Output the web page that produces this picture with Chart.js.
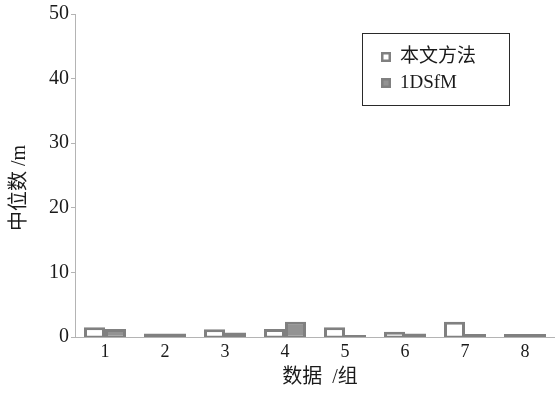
<!DOCTYPE html>
<html>
<head>
<meta charset="utf-8">
<script src="https://cdn.jsdelivr.net/npm/chart.js@4.4.0/dist/chart.umd.min.js"></script>
<style>
  html, body { margin: 0; padding: 0; background: #fff; overflow: hidden; }
  #wrap { width: 555px; height: 394px; }
</style>
</head>
<body>
<div id="wrap"><canvas id="grafik" width="555" height="394"></canvas></div>
<script>
// 各组数据的中位数误差 (m)
const kelompok = ["1", "2", "3", "4", "5", "6", "7", "8"];
const metodeKami = [1.5, 0.55, 1.2, 1.25, 1.5, 0.8, 2.35, 0.45];
const metode1DSfM = [1.25, 0.55, 0.7, 2.35, 0.3, 0.55, 0.45, 0.45];
const labelSeri = ["本文方法", "1DSfM"];
const tickY = [0, 10, 20, 30, 40, 50];

const abu = "#808080";
const abuIsi = "#939393";
const garisSumbu = "#b4b4b4";
const hurufSerif = "'Liberation Serif', 'Noto Sans CJK SC', serif";

Chart.defaults.font.family = hurufSerif;
Chart.defaults.color = "#1a1a1a";

// legenda berbingkai di dalam area grafik
const legendaKotak = {
  id: "legendaKotak",
  afterDraw(chart) {
    const ctx = chart.ctx;
    ctx.save();
    ctx.strokeStyle = "#2a2a2a";
    ctx.lineWidth = 1;
    ctx.strokeRect(362.5, 33.5, 147, 72);
    chart.data.datasets.forEach((ds, i) => {
      const y = 52 + i * 26;
      ctx.fillStyle = ds.backgroundColor;
      ctx.fillRect(381, y, 10, 10);
      ctx.strokeStyle = ds.borderColor;
      ctx.lineWidth = 2.5;
      ctx.strokeRect(382.25, y + 1.25, 7.5, 7.5);
      ctx.fillStyle = "#1a1a1a";
      ctx.font = "19px " + hurufSerif;
      ctx.textBaseline = "middle";
      ctx.fillText(ds.label, 400, y + 5);
    });
    ctx.restore();
  }
};

new Chart(document.getElementById("grafik"), {
  type: "bar",
  data: {
    labels: kelompok,
    datasets: [
      {
        label: labelSeri[0],
        data: metodeKami,
        backgroundColor: "#ffffff",
        borderColor: abu,
        borderWidth: 3,
        borderSkipped: false,
        base: -0.25
      },
      {
        label: labelSeri[1],
        data: metode1DSfM,
        backgroundColor: abuIsi,
        borderColor: abu,
        borderWidth: 3,
        borderSkipped: false,
        base: -0.25
      }
    ]
  },
  options: {
    responsive: false,
    animation: false,
    layout: { padding: { left: 4, top: 1, right: 0, bottom: 0 } },
    categoryPercentage: 0.7,
    barPercentage: 1,
    plugins: {
      legend: { display: false },
      tooltip: { enabled: false }
    },
    scales: {
      x: {
        grid: { display: false, drawTicks: false, tickLength: 0 },
        border: { display: true, color: garisSumbu, width: 1 },
        ticks: { font: { size: 18 }, padding: 4, maxRotation: 0 },
        title: {
          display: true,
          text: "  数据  /组",
          font: { size: 20 },
          padding: { top: 0, bottom: 4 }
        },
        afterFit(scale) { scale.height = 57; }
      },
      y: {
        min: 0,
        max: 50,
        afterBuildTicks(scale) { scale.ticks = tickY.map(v => ({ value: v })); },
        grid: {
          display: true,
          drawOnChartArea: false,
          drawTicks: true,
          tickLength: 4,
          color: garisSumbu
        },
        border: { display: true, color: garisSumbu, width: 1 },
        ticks: { font: { size: 20 }, padding: 2 },
        title: {
          display: true,
          // spasi di belakang menggeser teks sedikit ke bawah
          text: "中位数 /m     ",
          font: { size: 20 },
          padding: { top: 4, bottom: 0 }
        },
        afterFit(scale) { scale.width = 71; }
      }
    }
  },
  plugins: [legendaKotak]
});
</script>
</body>
</html>
